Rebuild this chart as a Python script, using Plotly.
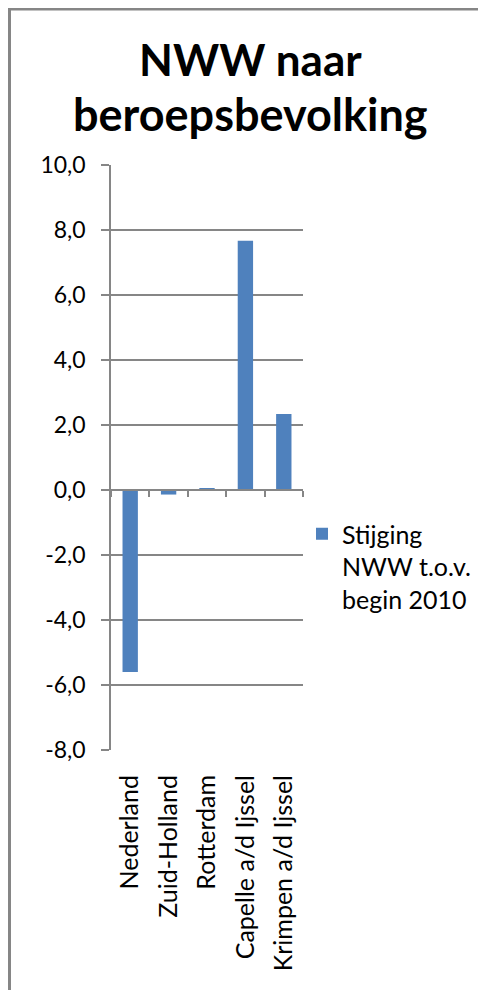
import plotly.graph_objects as go

categories = ["Nederland", "Zuid-Holland", "Rotterdam", "Capelle a/d Ijssel", "Krimpen a/d Ijssel"]
values = [-5.6, -0.14, 0.06, 7.67, 2.34]
series_name = "Stijging<br>NWW t.o.v.<br>begin 2010"
y_ticks = [-8, -6, -4, -2, 0, 2, 4, 6, 8, 10]
y_ticktext = [f"{v:.1f}".replace(".", ",") for v in y_ticks]
title_lines = ["NWW naar", "beroepsbevolking"]

FONT = "Lato"
GRAY = "#868686"
BAR = "#4F81BD"

OFF = 8  # page body margin
W, H = 486 - OFF, 990 - OFF
L, T = 111 - OFF, 165 - OFF
pw, ph = 192, 585
R, B = W - L - pw, H - T - ph


def px_x(x):
    """reference image pixel x -> paper"""
    return (x - OFF - L) / pw


def px_y(y):
    """reference image pixel y -> paper"""
    return (T + ph - (y - OFF)) / ph


fig = go.Figure()
fig.add_trace(go.Bar(x=categories, y=values, name=series_name, marker_color=BAR,
                     marker_line_width=0, showlegend=True))
fig.add_trace(go.Bar(x=categories, y=values, xaxis="x2", opacity=0, showlegend=False,
                     hoverinfo="skip"))

fig.update_layout(
    width=W, height=H,
    margin=dict(l=L, r=R, t=T, b=B, pad=0, autoexpand=False),
    paper_bgcolor="white", plot_bgcolor="white",
    font=dict(family=FONT, size=23, color="#000000"),
    bargap=0.6,
    showlegend=True,
    legend=dict(x=px_x(302), xanchor="left", y=px_y(511), yanchor="top",
                valign="top", font=dict(family=FONT, size=25), itemwidth=30,
                bgcolor="rgba(0,0,0,0)"),
    xaxis=dict(type="category", categoryarray=categories, range=[-0.5, 4.5],
               showline=False, ticks="", tickangle=-90, showgrid=False,
               zeroline=False, ticklabelstandoff=19,
               tickfont=dict(family=FONT, size=25)),
    xaxis2=dict(type="category", categoryarray=categories, range=[-0.5, 4.5],
                overlaying="x", anchor="free", position=8 / 18,
                showline=True, linecolor=GRAY, linewidth=1.5,
                ticks="outside", tickson="boundaries", ticklen=6, tickcolor=GRAY,
                tickwidth=1.5, showticklabels=False, showgrid=False, zeroline=False),
    yaxis=dict(range=[-8, 10], tickvals=y_ticks, ticktext=y_ticktext,
               showgrid=True, gridcolor=GRAY, gridwidth=1.5,
               zeroline=False, showline=True, linecolor=GRAY, linewidth=1.5,
               ticks="outside", ticklen=8, tickcolor=GRAY, tickwidth=1.5,
               ticklabelstandoff=11, tickfont=dict(family=FONT, size=23)),
    annotations=[
        dict(text=title_lines[0], xref="paper", yref="paper", x=px_x(250), y=px_y(59),
             xanchor="center", yanchor="middle", showarrow=False,
             font=dict(family=FONT, size=44, color="#000000", weight="bold")),
        dict(text=title_lines[1], xref="paper", yref="paper", x=px_x(250), y=px_y(114),
             xanchor="center", yanchor="middle", showarrow=False,
             font=dict(family=FONT, size=45, color="#000000", weight="bold")),
    ],
    shapes=[dict(type="rect", xref="paper", yref="paper",
                 x0=px_x(9.5), x1=px_x(1000), y0=px_y(1100), y1=px_y(OFF + 1),
                 line=dict(color=GRAY, width=3), fillcolor="rgba(0,0,0,0)", layer="below")],
)

fig.write_html("out.html")
